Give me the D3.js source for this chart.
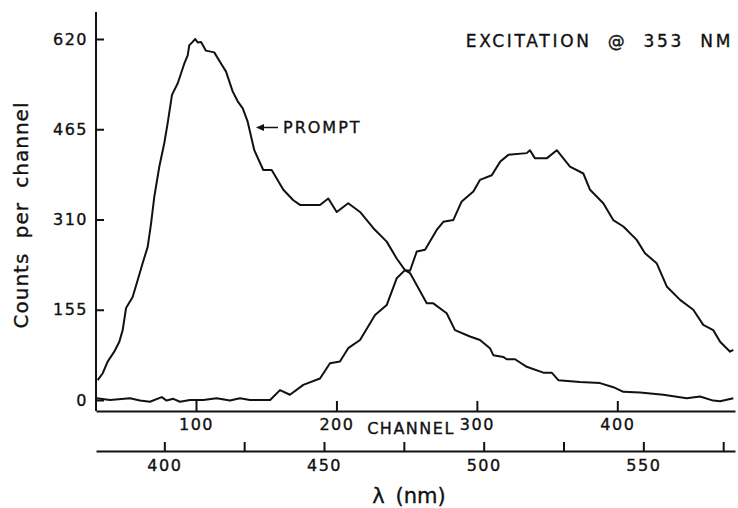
<!DOCTYPE html>
<html>
<head>
<meta charset="utf-8">
<script src="https://cdn.jsdelivr.net/npm/d3@7"></script>
<style>
  body { margin: 0; background: #fff; }
  svg { display: block; }
  text { font-family: "DejaVu Sans", sans-serif; fill: #111; stroke: #111; stroke-width: 0.35px; }
</style>
</head>
<body>
<svg id="drawing_region"></svg>
<script>
// tick values
const countTicks = [0, 155, 310, 465, 620]
const channelTicks = [100, 200, 300, 400]
const wavelengthTicks = [400, 450, 500, 550]
const wavelengthMinorTicks = [425, 475, 525, 575]

// prompt (lamp) curve: channel number and counts
const promptChannel = [30.0, 33.6, 37.1, 41.8, 45.4, 47.8, 50.2, 54.9, 58.5, 62.0, 65.6, 68.0, 70.3, 73.9, 77.4, 79.8, 82.9, 87.0, 91.7, 94.1, 95.2, 97.6, 99.5, 101.2, 103.6, 107.1, 113.0, 117.8, 121.4, 126.1, 129.7, 133.3, 136.8, 141.5, 147.9, 153.9, 162.2, 169.3, 174.1, 188.3, 194.2, 200.2, 208.4, 216.8, 226.3, 235.8, 242.9, 248.8, 252.4, 264.3, 269.0, 278.5, 284.4, 295.1, 302.2, 309.3, 311.7, 318.8, 321.2, 327.2, 335.5, 347.3, 353.3, 358.0, 373.4, 387.7, 397.2, 404.3, 416.2, 432.8, 449.4, 458.9, 468.3, 473.2, 482.6]
const promptCounts = [34, 46, 66, 83, 100, 120, 158, 177, 206, 235, 263, 303, 349, 401, 441, 475, 524, 544, 578, 592, 609, 615, 620, 614, 615, 600, 597, 578, 564, 530, 513, 501, 478, 429, 395, 395, 361, 343, 335, 335, 346, 323, 338, 323, 295, 272, 243, 223, 218, 166, 166, 149, 120, 109, 103, 89, 77, 74, 70, 70, 57, 47, 47, 34, 31, 29, 22, 14, 13, 9, 3, 6, -1, -2, 3]

// emission curve: channel number and counts
const emissionChannel = [29.3, 38.8, 53.0, 60.1, 67.2, 75.6, 79.1, 83.8, 88.6, 95.7, 105.2, 114.7, 124.2, 131.3, 138.4, 152.8, 159.8, 166.9, 176.4, 188.3, 195.4, 202.5, 208.4, 216.8, 227.5, 235.8, 242.9, 248.8, 252.4, 257.2, 263.1, 271.4, 276.1, 283.2, 289.2, 297.5, 302.2, 310.6, 316.5, 322.4, 335.5, 337.8, 341.4, 349.7, 356.9, 366.3, 375.8, 380.6, 390.0, 397.1, 404.3, 413.8, 419.7, 428.0, 435.2, 444.7, 454.1, 461.2, 468.3, 473.2, 480.3, 482.6]
const emissionCounts = [3, 0, 3, -1, -3, 5, -1, 2, -3, 0, 0, 3, -1, 3, 0, 0, 17, 9, 26, 37, 63, 66, 89, 103, 146, 163, 209, 223, 222, 255, 258, 292, 306, 309, 341, 358, 378, 386, 409, 421, 424, 429, 415, 415, 429, 401, 389, 361, 338, 309, 298, 275, 252, 235, 195, 172, 155, 129, 120, 100, 83, 86]

class SpectrumPlot{
    constructor(config){
        this.config = config
        this.prompt = promptChannel.map((ch,i) => ({ch: ch, c: promptCounts[i]}))
        this.emission = emissionChannel.map((ch,i) => ({ch: ch, c: emissionCounts[i]}))
        this.init()
    }

    init(){
        let self = this
        const c = self.config

        self.svg = d3.select(c.parent)
            .attr('width', c.width)
            .attr('height', c.height)

        self.xscale = d3.scaleLinear().domain(c.channelDomain).range([c.left, c.right])
        self.wscale = d3.scaleLinear().domain(c.wavelengthDomain).range([c.left, c.right])
        self.yscale = d3.scaleLinear().domain([0, 620]).range([c.zeroY, c.topTickY])

        self.yaxis = d3.axisLeft(self.yscale).tickValues(countTicks)
            .tickSizeInner(-8).tickSizeOuter(0).tickPadding(8)
        self.xaxis = d3.axisBottom(self.xscale).tickValues(channelTicks)
            .tickSizeInner(-10).tickSizeOuter(0).tickPadding(8)
        self.waxis = d3.axisBottom(self.wscale).tickValues(wavelengthTicks)
            .tickSizeInner(-9).tickSizeOuter(0).tickPadding(9)
        self.wminor = d3.axisBottom(self.wscale).tickValues(wavelengthMinorTicks)
            .tickSizeInner(-9).tickSizeOuter(0).tickFormat('')
    }

    render(){
        let self = this
        const c = self.config

        // y axis drawn as a plain line from the top down to the channel axis
        self.svg.append('line')
            .attr('x1', c.left).attr('x2', c.left)
            .attr('y1', c.axisTop).attr('y2', c.channelAxisY)
            .attr('stroke', '#111').attr('stroke-width', 2)

        const yg = self.svg.append('g').attr('transform', `translate(${c.left},0)`).call(self.yaxis)
        yg.select('.domain').remove()
        yg.selectAll('line').attr('stroke', '#111').attr('stroke-width', 2)
        yg.selectAll('text').attr('font-size', 16).attr('letter-spacing', 1.5)
            .attr('font-family', '"DejaVu Sans", sans-serif').attr('fill', '#111')

        const xg = self.svg.append('g').attr('transform', `translate(0,${c.channelAxisY})`).call(self.xaxis)
        const wg = self.svg.append('g').attr('transform', `translate(0,${c.wavelengthAxisY})`).call(self.waxis)
        const wm = self.svg.append('g').attr('transform', `translate(0,${c.wavelengthAxisY})`).call(self.wminor)
        wm.select('.domain').remove()
        for (const g of [xg, wg, wm]) {
            g.selectAll('path, line').attr('stroke', '#111').attr('stroke-width', 2)
            g.selectAll('text').attr('font-size', 16).attr('letter-spacing', 1.5)
                .attr('font-family', '"DejaVu Sans", sans-serif').attr('fill', '#111')
        }

        const line = d3.line()
            .x(d => self.xscale(d.ch))
            .y(d => self.yscale(d.c))

        self.svg.append('path').datum(self.prompt)
            .attr('d', line).attr('fill', 'none')
            .attr('stroke', '#111').attr('stroke-width', 2).attr('stroke-linejoin', 'round')

        self.svg.append('path').datum(self.emission)
            .attr('d', line).attr('fill', 'none')
            .attr('stroke', '#111').attr('stroke-width', 2).attr('stroke-linejoin', 'round')

        // labels
        self.svg.append('text')
            .attr('transform', 'translate(28,215) rotate(-90)')
            .attr('text-anchor', 'middle')
            .attr('font-size', 20).attr('letter-spacing', 1).attr('word-spacing', 7)
            .text('Counts per channel')

        self.svg.append('text')
            .attr('x', 411).attr('y', 434)
            .attr('text-anchor', 'middle')
            .attr('font-size', 16).attr('letter-spacing', 1.5)
            .text('CHANNEL')

        self.svg.append('text')
            .attr('x', 409).attr('y', 503)
            .attr('text-anchor', 'middle')
            .attr('font-size', 21).attr('word-spacing', 4)
            .text('λ (nm)')

        self.svg.append('text')
            .attr('x', 733).attr('y', 46.5)
            .attr('text-anchor', 'end')
            .attr('font-size', 17).attr('letter-spacing', 2.7).attr('word-spacing', 8)
            .text('EXCITATION @ 353 NM')

        self.svg.append('text')
            .attr('x', 283).attr('y', 133)
            .attr('font-size', 16).attr('letter-spacing', 2)
            .text('PROMPT')

        // arrow pointing at the prompt curve
        self.svg.append('line')
            .attr('x1', 278).attr('x2', 262).attr('y1', 127.5).attr('y2', 127.5)
            .attr('stroke', '#111').attr('stroke-width', 1.5)
        self.svg.append('path')
            .attr('d', 'M256,127.5 L264,124 L264,131 Z')
            .attr('fill', '#111')
    }
}

const config = {
    parent: '#drawing_region',
    width: 738,
    height: 508,
    left: 96,
    right: 735,
    axisTop: 12,
    zeroY: 400,
    topTickY: 39,
    channelAxisY: 411,
    wavelengthAxisY: 451,
    channelDomain: [28.8, 483.8],
    wavelengthDomain: [378.6, 578.7]
}

const plot = new SpectrumPlot(config)
plot.render()
</script>
</body>
</html>
